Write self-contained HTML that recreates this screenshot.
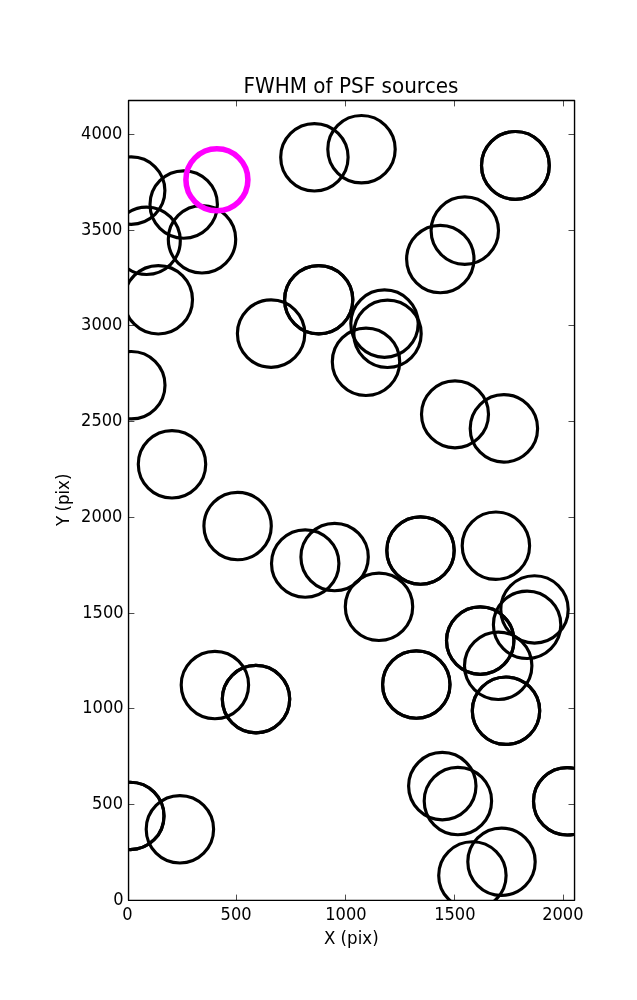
<!DOCTYPE html>
<html lang="en"><head><meta charset="utf-8"><title>FWHM of PSF sources</title>
<style>html,body{margin:0;padding:0;background:#fff;}body{width:637px;height:1000px;overflow:hidden;}svg{display:block;will-change:transform;}text{font-family:"DejaVu Sans", "Liberation Sans", sans-serif;fill:#000;}</style>
</head><body>
<svg width="637" height="1000" viewBox="0 0 637 1000">
<rect x="0" y="0" width="637" height="1000" fill="#ffffff"/>
<defs><clipPath id="ax"><rect x="128.00" y="100.00" width="446.00" height="800.00"/></clipPath></defs>
<g clip-path="url(#ax)" fill="none" stroke="#000" stroke-width="3.15">
<circle cx="131.2" cy="190.6" r="33.70"/>
<circle cx="183.7" cy="204.5" r="33.70"/>
<circle cx="202.0" cy="239.3" r="33.70"/>
<circle cx="146.6" cy="240.8" r="33.70"/>
<circle cx="158.3" cy="299.8" r="34.20"/>
<circle cx="314.4" cy="157.3" r="33.70"/>
<circle cx="361.5" cy="149.2" r="33.70"/>
<circle cx="131.3" cy="385.2" r="33.70"/>
<circle cx="271.1" cy="333.6" r="33.70"/>
<circle cx="318.7" cy="299.8" r="34.10"/>
<circle cx="318.7" cy="299.8" r="34.10"/>
<circle cx="384.5" cy="323.6" r="33.70"/>
<circle cx="387.5" cy="333.8" r="33.70"/>
<circle cx="366.0" cy="361.8" r="33.70"/>
<circle cx="440.3" cy="259.0" r="33.70"/>
<circle cx="464.8" cy="230.6" r="33.70"/>
<circle cx="455.0" cy="414.3" r="33.50"/>
<circle cx="515.4" cy="165.4" r="33.90"/>
<circle cx="515.4" cy="165.4" r="33.90"/>
<circle cx="503.9" cy="428.4" r="33.70"/>
<circle cx="172.0" cy="464.3" r="33.70"/>
<circle cx="237.6" cy="526.0" r="33.70"/>
<circle cx="305.2" cy="563.5" r="33.70"/>
<circle cx="334.6" cy="557.0" r="33.70"/>
<circle cx="214.9" cy="685.0" r="33.70"/>
<circle cx="256.0" cy="699.1" r="33.70"/>
<circle cx="256.0" cy="699.1" r="33.70"/>
<circle cx="420.5" cy="550.5" r="33.70"/>
<circle cx="420.5" cy="550.5" r="33.70"/>
<circle cx="379.0" cy="606.8" r="33.70"/>
<circle cx="416.3" cy="684.5" r="33.70"/>
<circle cx="416.3" cy="684.5" r="33.70"/>
<circle cx="495.9" cy="545.7" r="33.70"/>
<circle cx="480.2" cy="640.6" r="33.70"/>
<circle cx="480.2" cy="640.6" r="33.70"/>
<circle cx="498.2" cy="665.8" r="33.70"/>
<circle cx="534.5" cy="609.4" r="33.70"/>
<circle cx="527.1" cy="624.8" r="33.70"/>
<circle cx="506.0" cy="710.7" r="33.70"/>
<circle cx="506.0" cy="710.7" r="33.70"/>
<circle cx="130.3" cy="815.9" r="33.70"/>
<circle cx="130.3" cy="815.9" r="33.70"/>
<circle cx="179.9" cy="829.3" r="33.70"/>
<circle cx="442.3" cy="786.1" r="33.70"/>
<circle cx="457.9" cy="801.0" r="33.70"/>
<circle cx="472.4" cy="875.4" r="33.70"/>
<circle cx="501.5" cy="861.8" r="33.70"/>
<circle cx="567.2" cy="801.3" r="33.70"/>
<circle cx="567.2" cy="801.3" r="33.70"/>
<circle cx="216.9" cy="179.8" r="31.00" stroke="#ff00ff" stroke-width="5.56"/>
</g>
<g stroke="#000" stroke-width="0.7" fill="none">
<path d="M128.5 900.4V894.6 M128.5 100V106.4"/>
<path d="M236.5 900.4V894.6 M236.5 100V106.4"/>
<path d="M345.5 900.4V894.6 M345.5 100V106.4"/>
<path d="M454.5 900.4V894.6 M454.5 100V106.4"/>
<path d="M563.5 900.4V894.6 M563.5 100V106.4"/>
<path d="M128 900.5H134.4 M574.5 900.5H568.5"/>
<path d="M128 804.5H134.4 M574.5 804.5H568.5"/>
<path d="M128 708.5H134.4 M574.5 708.5H568.5"/>
<path d="M128 613.5H134.4 M574.5 613.5H568.5"/>
<path d="M128 517.5H134.4 M574.5 517.5H568.5"/>
<path d="M128 421.5H134.4 M574.5 421.5H568.5"/>
<path d="M128 325.5H134.4 M574.5 325.5H568.5"/>
<path d="M128 230.5H134.4 M574.5 230.5H568.5"/>
<path d="M128 134.5H134.4 M574.5 134.5H568.5"/>
</g>
<rect x="128.55" y="100.50" width="446.00" height="799.85" fill="none" stroke="#000" stroke-width="1.39" stroke-linejoin="round"/>
<text transform="translate(127.40 919.80) scale(0.975 1.070)" font-size="16.67px" text-anchor="middle">0</text>
<text transform="translate(236.04 919.80) scale(0.975 1.070)" font-size="16.67px" text-anchor="middle">500</text>
<text transform="translate(345.92 919.80) scale(0.975 1.070)" font-size="16.67px" text-anchor="middle">1000</text>
<text transform="translate(454.81 919.80) scale(0.975 1.070)" font-size="16.67px" text-anchor="middle">1500</text>
<text transform="translate(562.80 919.80) scale(0.975 1.070)" font-size="16.67px" text-anchor="middle">2000</text>
<text transform="translate(123.60 904.70) scale(0.975 1.070)" font-size="16.67px" text-anchor="end">0</text>
<text transform="translate(123.00 808.70) scale(0.975 1.070)" font-size="16.67px" text-anchor="end">500</text>
<text transform="translate(123.55 712.70) scale(0.975 1.070)" font-size="16.67px" text-anchor="end">1000</text>
<text transform="translate(123.55 617.70) scale(0.975 1.070)" font-size="16.67px" text-anchor="end">1500</text>
<text transform="translate(122.45 521.70) scale(0.975 1.070)" font-size="16.67px" text-anchor="end">2000</text>
<text transform="translate(122.45 425.70) scale(0.975 1.070)" font-size="16.67px" text-anchor="end">2500</text>
<text transform="translate(122.45 329.70) scale(0.975 1.070)" font-size="16.67px" text-anchor="end">3000</text>
<text transform="translate(122.45 234.70) scale(0.975 1.070)" font-size="16.67px" text-anchor="end">3500</text>
<text transform="translate(122.45 138.70) scale(0.975 1.070)" font-size="16.67px" text-anchor="end">4000</text>
<text transform="translate(351.30 943.80) scale(1.000 1.050)" font-size="16.67px" text-anchor="middle">X (pix)</text>
<text transform="translate(68.90 499.80) rotate(-90) scale(1.000 1.050)" font-size="16.67px" text-anchor="middle" word-spacing="-1">Y (pix)</text>
<text transform="translate(350.90 92.80) scale(1.000 1.020)" font-size="20.00px" text-anchor="middle">FWHM of PSF sources</text>
</svg>
</body></html>
